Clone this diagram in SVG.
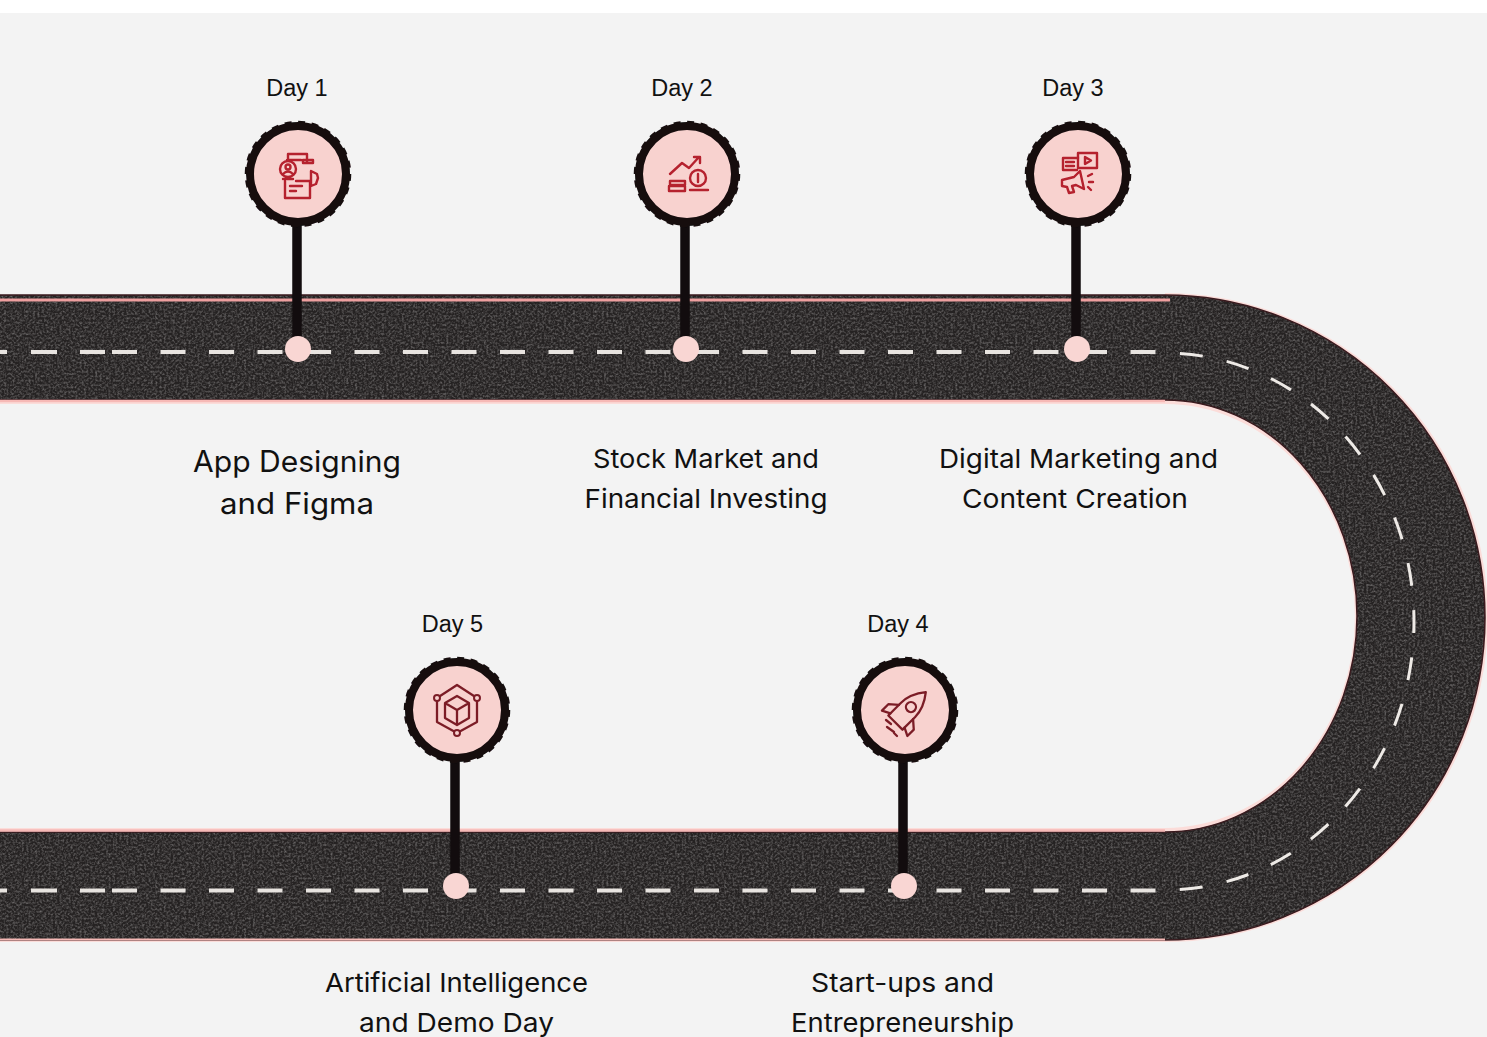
<svg xmlns="http://www.w3.org/2000/svg" width="1487" height="1037" viewBox="0 0 1487 1037">
<style>
.day{font-family:"Liberation Sans",Arial,sans-serif;font-size:23.5px;fill:#111;text-anchor:middle}
.t{font-family:Inter,"Noto Sans",sans-serif;font-size:26px;fill:#111;text-anchor:middle}
.tl{font-size:29.5px}
.ring{fill:#f8d2cf;stroke:#140a0c;stroke-width:8}
.bump{fill:none;stroke:#140a0c;stroke-width:2.500;stroke-dasharray:7 6.6}
.stem{stroke:#120c0e;stroke-width:9.500;fill:none}
.dot{fill:#f9d6d3}
.ic{fill:none;stroke:#b5202e;stroke-width:2.400;stroke-linejoin:round;stroke-linecap:round}
.ic2{fill:none;stroke:#7c1f28;stroke-width:2.300;stroke-linejoin:round;stroke-linecap:round}
.soft{filter:url(#soft)}
</style>
<defs>
<filter id="asphalt" filterUnits="userSpaceOnUse" x="0" y="290" width="1487" height="655" color-interpolation-filters="sRGB">
<feTurbulence type="fractalNoise" baseFrequency="0.45" numOctaves="2" seed="11" result="n"/>
<feColorMatrix in="n" type="matrix" values="0 0 0 0 0.50  0 0 0 0 0.49  0 0 0 0 0.49  1.5 0 0 0 -0.58" result="s"/>
<feComposite in="s" in2="SourceGraphic" operator="in" result="c"/>
<feMerge><feMergeNode in="SourceGraphic"/><feMergeNode in="c"/></feMerge>
</filter>
<filter id="soft" x="-10%" y="-10%" width="120%" height="120%"><feGaussianBlur stdDeviation="0.6"/></filter>
</defs>
<rect width="1487" height="1037" fill="#ffffff"/>
<rect y="13" width="1487" height="1024" fill="#f3f3f3"/>
<g id="road">
<path d="M0 402H1165A192 214 0 0 1 1165 830H0M0 940H1165A321 322.500 0 0 0 1165 295" fill="none" stroke="#fbdcd9" stroke-width="4"/>
<path d="M-5 295H1165A320 322.500 0 0 1 1165 940H-5V832H1165A192 216 0 0 0 1165 400H-5Z" fill="#252222" filter="url(#asphalt)"/>
<path d="M-5 295H1165A320 322.500 0 0 1 1165 940H-5V832H1165A192 216 0 0 0 1165 400H-5Z" fill="none" stroke="#3a1a1e" stroke-width="1.500"/>
<path d="M0 300H1170" fill="none" stroke="#ee9f9f" stroke-width="3"/>
<path d="M0 401H1165" fill="none" stroke="#f6b9b6" stroke-width="2.500"/>
<path d="M0 830.500H1165" fill="none" stroke="#f6b9b6" stroke-width="2.500"/>
<path d="M0 939.500H1165" fill="none" stroke="#f6b9b6" stroke-width="2"/>
</g>
<g id="connectors">
<path d="M0 352H7M31 352H57M80 352H105M0 890.500H7M31 890.500H57M80 890.500H105" fill="none" stroke="#e8e4e0" stroke-width="4"/>
<path d="M112 352H1160M112 890.500H1160" fill="none" stroke="#e8e4e0" stroke-width="4" stroke-dasharray="25 23.500"/>
<path d="M1165 353A249 268.500 0 0 1 1165 890" fill="none" stroke="#eeeae6" stroke-width="3" stroke-dasharray="0 15 23 24.500 23 24.500 23 24.500 23 24.500 23 24.500 23 24.500 23 24.500 23 24.500 23 24.500 23 24.500 23 24.500 23 24.500 23 24.500 23 24.500 23 24.500 23 24.500 23 30"/>
<path class="stem" d="M297 222V340M685 222V340M1076 222V340M455 760V876M903 760V876"/>
</g>
<g id="day1">
<text class="day" x="297" y="96">Day 1</text>
<g class="soft"><circle class="ring" cx="298" cy="174" r="48"/><circle class="bump" cx="298" cy="174" r="52"/>
<g transform="translate(298 174)">
<path class="ic" d="M-10-14V-20H9V-11M-11-14H3M5-14H15V-11H5Z"/>
<circle class="ic" cx="-10" cy="-5" r="8"/><circle class="ic" cx="-10" cy="-7" r="2.500"/><path class="ic" d="M-15 0Q-10-5-5 0M-15 5H-5"/>
<path class="ic" d="M-13 7V24H12V7H-2M-8 12H4M-8 17H-2"/>
<path class="ic" d="M13-3L19 0 20 4 18 10 13 12Z"/>
</g></g>
<circle class="dot" cx="298" cy="349" r="13"/>
<text class="t tl" x="297" y="472" textLength="208" lengthAdjust="spacingAndGlyphs">App Designing</text>
<text class="t tl" x="297" y="514" textLength="154" lengthAdjust="spacingAndGlyphs">and Figma</text>
</g>
<g id="day2">
<text class="day" x="682" y="96">Day 2</text>
<g class="soft"><circle class="ring" cx="687" cy="174" r="48"/><circle class="bump" cx="687" cy="174" r="52"/>
<g transform="translate(687 174)">
<path class="ic" d="M-17 0L-5-11 2-6 12-17M7-17H13V-11"/>
<circle class="ic" cx="11" cy="4" r="8"/><path class="ic" d="M11 0V8" stroke-width="3"/>
<path class="ic" d="M3 16H21M-17 7H-2V11H-17ZM-18 12H-2V17H-18Z"/>
</g></g>
<circle class="dot" cx="686" cy="349" r="13"/>
<text class="t" x="706" y="468" textLength="226" lengthAdjust="spacingAndGlyphs">Stock Market and</text>
<text class="t" x="706" y="508" textLength="243" lengthAdjust="spacingAndGlyphs">Financial Investing</text>
</g>
<g id="day3">
<text class="day" x="1073" y="96">Day 3</text>
<g class="soft"><circle class="ring" cx="1078" cy="174" r="48"/><circle class="bump" cx="1078" cy="174" r="52"/>
<g transform="translate(1078 174)">
<path class="ic" d="M0-21H19V-6H0ZM7-17L13-13.500 7-10Z"/>
<path class="ic" d="M0-16H-15V-4H-1M-12-12H-4M-12-8H-4"/>
<path class="ic" d="M-16 6L-4 3 2-3 6 15 -2 11-6 12-4 18-9 19-11 13-16 12ZM10 2L14 0M11 8H15M10 13L13 16"/>
</g></g>
<circle class="dot" cx="1077" cy="349" r="13"/>
<text class="t" x="1078.500" y="468" textLength="279" lengthAdjust="spacingAndGlyphs">Digital Marketing and</text>
<text class="t" x="1075" y="508" textLength="226" lengthAdjust="spacingAndGlyphs">Content Creation</text>
</g>
<g id="day4">
<text class="day" x="898" y="632">Day 4</text>
<g class="soft"><circle class="ring" cx="905" cy="710" r="48"/><circle class="bump" cx="905" cy="710" r="52"/>
<g transform="translate(905 710)">
<g transform="translate(1 2) rotate(45)">
<path class="ic2" d="M-10 15V-3C-10-14 -4-23 0-28 4-23 10-14 10-3V15Z"/>
<circle class="ic2" cx="0" cy="-7" r="5"/>
<path class="ic2" d="M-10 0L-18 7V16L-10 12M10 0L18 7V16L10 12"/>
</g>
<path class="ic2" d="M-19 10L-14 14M-18 17L-11 22M-11 23L-8 26"/>
</g></g>
<circle class="dot" cx="904" cy="886" r="13"/>
<text class="t" x="902.500" y="992" textLength="183" lengthAdjust="spacingAndGlyphs">Start-ups and</text>
<text class="t" x="902.500" y="1032" textLength="223" lengthAdjust="spacingAndGlyphs">Entrepreneurship</text>
</g>
<g id="day5">
<text class="day" x="452.500" y="632">Day 5</text>
<g class="soft"><circle class="ring" cx="457" cy="710" r="48"/><circle class="bump" cx="457" cy="710" r="52"/>
<g transform="translate(457 710)">
<path class="ic2" d="M0-25L20-12 20 12 0 23-20 12-20-12Z"/>
<path class="ic2" d="M0-14L12-7V8L0 15-12 8V-7ZM-12-7L0 0 12-7M0 0V15"/>
<circle cx="-20" cy="-12" r="3" fill="#f8d2cf" stroke="#7c1f28" stroke-width="2"/>
<circle cx="20" cy="-12" r="3" fill="#f8d2cf" stroke="#7c1f28" stroke-width="2"/>
<circle cx="0" cy="23" r="3" fill="#f8d2cf" stroke="#7c1f28" stroke-width="2"/>
</g></g>
<circle class="dot" cx="456" cy="886" r="13"/>
<text class="t" x="456.500" y="992" textLength="263" lengthAdjust="spacingAndGlyphs">Artificial Intelligence</text>
<text class="t" x="456.500" y="1032" textLength="195" lengthAdjust="spacingAndGlyphs">and Demo Day</text>
</g>
</svg>
